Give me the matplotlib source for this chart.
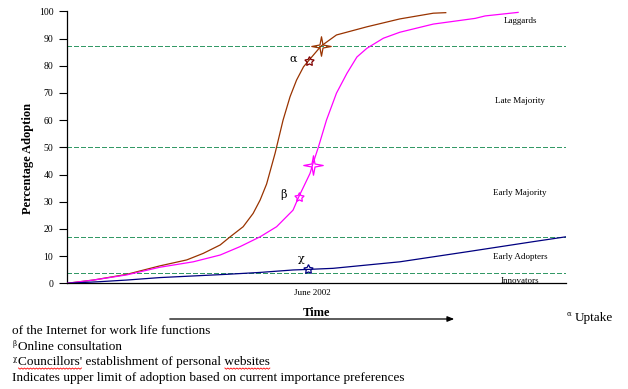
import matplotlib
matplotlib.use("Agg")
import matplotlib.pyplot as plt
from matplotlib.path import Path
import numpy as np

# ---- data (time axis 0..100, percentage adoption) ----
alpha_x = [0, 5.3, 12.0, 18.6, 24.0, 27.3, 30.7, 32.7, 35.3, 37.3, 38.7, 40.0, 41.7, 43.3,
           44.7, 46.0, 47.4, 48.4, 50.9, 54.0, 60.1, 66.7, 73.4, 75.9]
alpha_y = [0, 1.2, 3.3, 6.4, 8.6, 11.0, 14.1, 17.1, 20.8, 25.7, 30.6, 36.5, 47.8, 60.0,
           68.6, 74.7, 79.6, 81.8, 87.2, 91.3, 94.3, 97.2, 99.3, 99.5]

beta_x = [0, 5.3, 12.0, 18.6, 25.3, 30.7, 34.7, 38.7, 42.0, 45.3, 46.4, 48.7, 49.2, 50.4,
          52.0, 54.0, 56.1, 58.1, 60.1, 63.4, 66.7, 73.4, 81.8, 83.8, 90.4]
beta_y = [0, 1.2, 3.1, 5.9, 7.9, 10.4, 13.5, 17.1, 20.8, 26.9, 31.6, 40.4, 43.5, 50.2,
          60.0, 69.9, 77.2, 83.2, 86.4, 90.1, 92.3, 95.3, 97.4, 98.3, 99.6]

chi_x = [0, 6.6, 12.0, 18.6, 25.3, 32.0, 38.7, 45.3, 48.2, 53.3, 66.7, 80.2, 93.4, 100]
chi_y = [0, 0.6, 1.2, 2.1, 2.7, 3.3, 4.0, 4.9, 5.1, 5.5, 7.9, 11.6, 15.3, 17.1]

# current-state markers (small stars) and upper limits (large stars)
current_x = {"alpha": 48.4, "beta": 46.4, "chi": 48.2}
current_y = {"alpha": 81.8, "beta": 31.6, "chi": 5.1}
limit_x = {"alpha": 50.9, "beta": 49.2}
limit_y = {"alpha": 87.2, "beta": 43.5}

thresholds = [3.7, 16.9, 50.2, 87.2]
categories = ["Laggards", "Late Majority", "Early Majority", "Early Adopters"]
category_y = [96.5, 67.0, 33.3, 9.8]
bottom_category = "Innovators"
yticks = list(range(0, 101, 10))
date_label = "June 2002"
date_x = 49.1

W, H = 628, 389
fig = plt.figure(figsize=(W / 100, H / 100), dpi=100)
fig.patch.set_facecolor("white")
serif = ["Liberation Serif", "DejaVu Serif"]
plt.rcParams["font.family"] = serif

def fx(px):
    return px / W

def fy(py):
    return 1 - py / H

ax = fig.add_axes([fx(67), fy(283.3), (566 - 67) / W, (283.3 - 11.3) / H])
ax.set_xlim(0, 100)
ax.set_ylim(0, 100)
for s in ["top", "right"]:
    ax.spines[s].set_visible(False)
for s in ["left", "bottom"]:
    ax.spines[s].set_linewidth(0.9)
    ax.spines[s].set_color("black")
ax.set_xticks([])
ax.set_yticks(yticks)
ax.tick_params(axis="y", direction="out", length=5.8, width=0.8, pad=4, labelsize=7)

green = "#339966"
for t in thresholds:
    ax.axhline(t, color=green, lw=0.9, linestyle=(0, (3.5, 2.2)), zorder=1, antialiased=False)

brown = "#993300"
magenta = "#FF00FF"
navy = "#000080"
ax.plot(alpha_x, alpha_y, color=brown, lw=0.9, zorder=3)
ax.plot(beta_x, beta_y, color=magenta, lw=0.9, zorder=3)
ax.plot(chi_x, chi_y, color=navy, lw=0.9, zorder=3)

# thin four-point star marker
ang = np.arange(8) * np.pi / 4
rad = np.where(np.arange(8) % 2 == 0, 1.0, 0.22)
verts = np.column_stack([rad * np.cos(ang), rad * np.sin(ang)])
verts = np.vstack([verts, verts[:1]])
star4 = Path(verts, [Path.MOVETO] + [Path.LINETO] * 7 + [Path.CLOSEPOLY])

star5 = (5, 1, 0)
ax.plot(current_x["alpha"], current_y["alpha"], marker=star5, ms=7, mfc="none", mec="#800000", mew=0.9, zorder=4)
ax.plot(current_x["beta"], current_y["beta"], marker=star5, ms=7, mfc="none", mec=magenta, mew=0.9, zorder=4)
ax.plot(current_x["chi"], current_y["chi"], marker=star5, ms=7, mfc="none", mec=navy, mew=0.9, zorder=4)
ax.plot(limit_x["alpha"], limit_y["alpha"], marker=star4, ms=14, mfc="none", mec=brown, mew=0.9, zorder=4)
ax.plot(limit_x["beta"], limit_y["beta"], marker=star4, ms=14, mfc="none", mec=magenta, mew=0.9, zorder=4)

ax.text(45.3, 82.4, "α", fontsize=8, ha="center", va="center", family=["DejaVu Serif"])
ax.text(43.3, 32.5, "β", fontsize=8, ha="center", va="center", family=["DejaVu Serif"])
ax.text(46.9, 8.8, "χ", fontsize=8, ha="center", va="center", family=["DejaVu Serif"])

for c, y in zip(categories, category_y):
    ax.text(90.8, y, c, fontsize=6.5, ha="center", va="center")
ax.text(90.8, 0.0, bottom_category, fontsize=6.5, ha="center", va="baseline", clip_on=True)

ax.text(date_x, -3.5, date_label, fontsize=6.5, ha="center", va="center", clip_on=False)

fig.text(fx(28), fy(159), "Percentage Adoption", fontsize=9, fontweight="bold",
         rotation=90, ha="center", va="center")

# Time label and arrow
fig.text(fx(316.5), fy(313), "Time", fontsize=9, fontweight="bold", ha="center", va="center")
fig.add_artist(matplotlib.patches.FancyArrowPatch(
    (fx(167), fy(319)), (fx(457), fy(319)), transform=fig.transFigure,
    arrowstyle="-|>,head_length=4,head_width=1.6", color="black", lw=0.9, mutation_scale=1))

# footnotes
fs = 9.5
fig.text(fx(567), fy(314), "α", fontsize=5, ha="left", va="center", family=["DejaVu Serif"])
fig.text(fx(575), fy(318), "Uptake", fontsize=fs, ha="left", va="center")
fig.text(fx(12.5), fy(331.5), "of the Internet for work life functions", fontsize=fs, ha="left", va="center")
fig.text(fx(12.5), fy(344), "β", fontsize=5, ha="left", va="center", family=["DejaVu Serif"])
fig.text(fx(18.5), fy(347), "Online consultation", fontsize=fs, ha="left", va="center")
fig.text(fx(12.5), fy(359), "χ", fontsize=5, ha="left", va="center", family=["DejaVu Serif"])
line3_pre = "Councillors'"
line3_mid = " establishment of personal "
line3_end = "websites"
fig.text(fx(18.5), fy(362), line3_pre + line3_mid + line3_end, fontsize=fs, ha="left", va="center")
fig.text(fx(12.5), fy(378.5), "Indicates upper limit of adoption based on current importance preferences", fontsize=fs, ha="left", va="center")

# spell-check style wavy underlines
renderer = fig.canvas.get_renderer()
def text_width(s):
    t = fig.text(0, 0, s, fontsize=fs)
    w = t.get_window_extent(renderer).width
    t.remove()
    return w

x0 = 18.5
w_pre = text_width(line3_pre)
w_upto_end = text_width(line3_pre + line3_mid)
w_all = text_width(line3_pre + line3_mid + line3_end)
for a, b in [(x0, x0 + w_pre), (x0 + w_upto_end, x0 + w_all)]:
    xs = np.arange(a, b + 0.1, 1.5)
    ys = 368 + np.where(np.arange(len(xs)) % 2 == 0, 0.0, 1.2)
    fig.add_artist(matplotlib.lines.Line2D(fx(xs), fy(ys), color="red", lw=0.6,
                                           transform=fig.transFigure))

fig.savefig("out.png", dpi=100, facecolor="white")
